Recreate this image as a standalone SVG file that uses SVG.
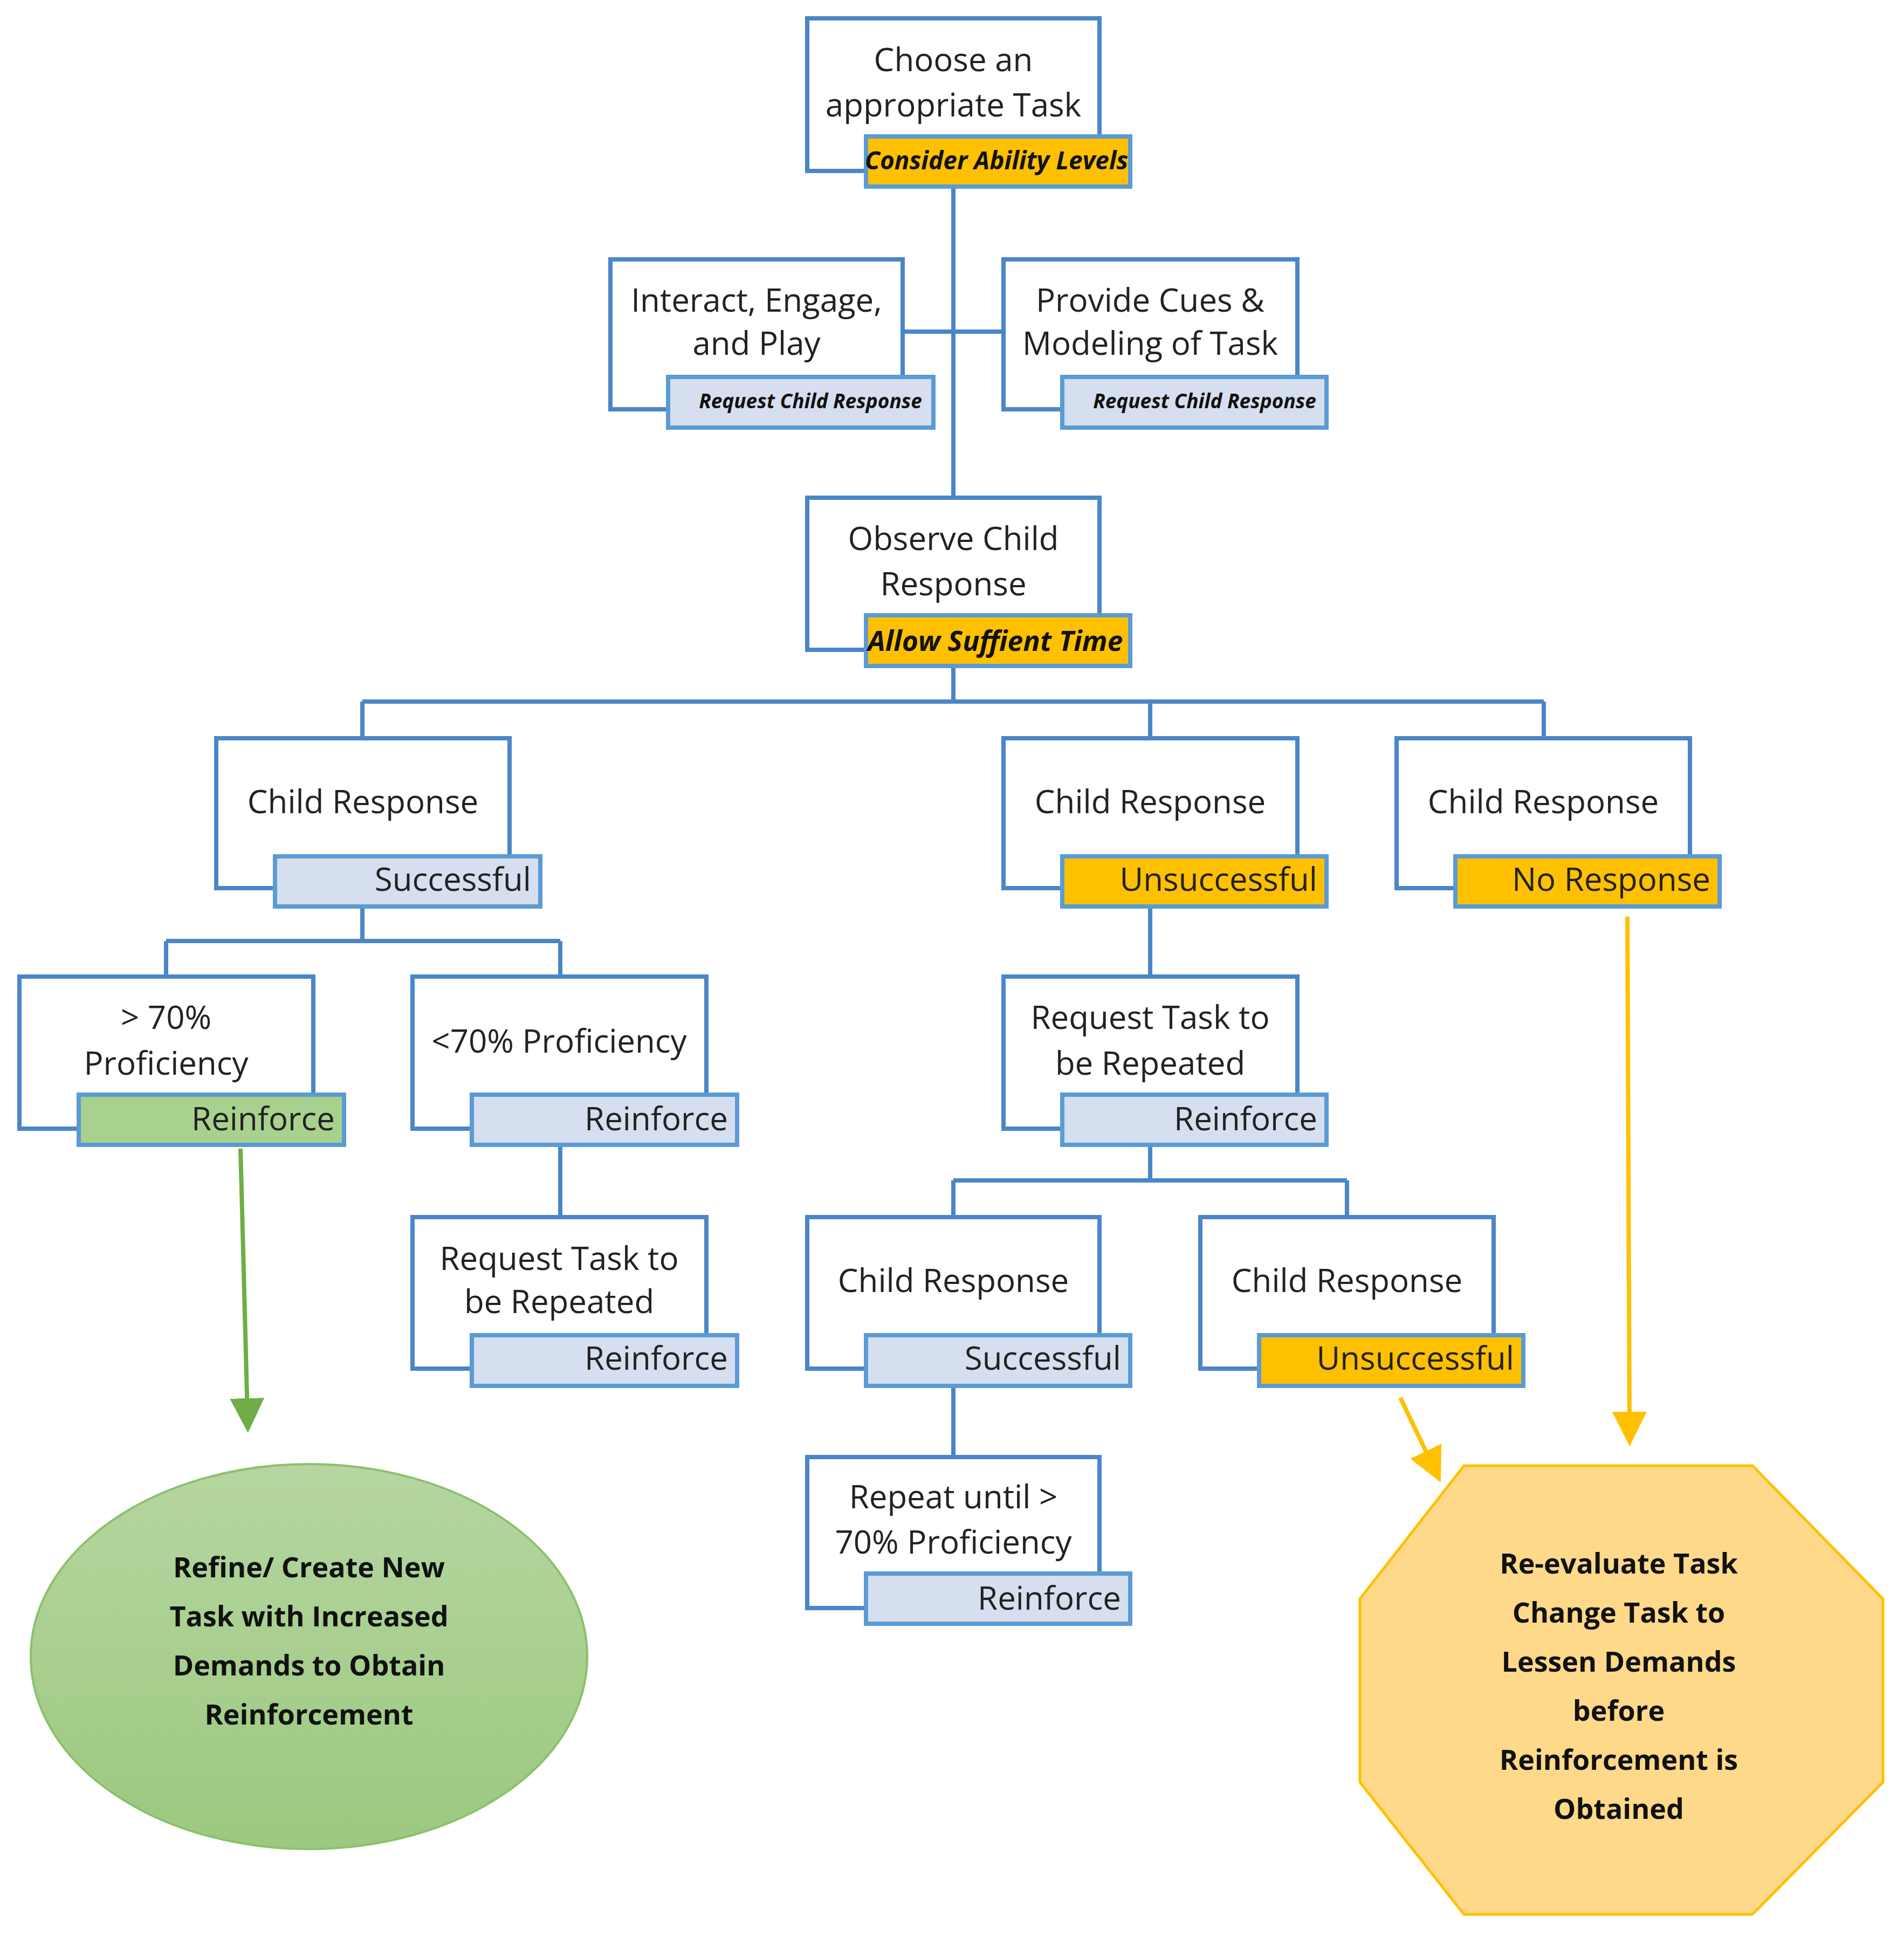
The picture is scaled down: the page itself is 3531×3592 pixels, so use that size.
<svg xmlns="http://www.w3.org/2000/svg" width="3531" height="3592" viewBox="0 0 3531 3592">
<style>
.box{fill:#fff;stroke:#4A86C8;stroke-width:8}
.lb{fill:#D5DFEF;stroke:#5B9BD5;stroke-width:8}
.ly{fill:#FFC000;stroke:#5B9BD5;stroke-width:8}
.lg{fill:#A9D18E;stroke:#5B9BD5;stroke-width:8}
.t{font-family:"Open Sans","Liberation Sans",sans-serif;font-size:60px;fill:#222;text-anchor:middle}
.tl{font-family:"Open Sans","Liberation Sans",sans-serif;font-size:60px;fill:#222;text-anchor:end}
.ti{font-family:"Open Sans","Liberation Sans",sans-serif;font-weight:bold;font-style:italic;fill:#111;text-anchor:middle}
.tb{font-family:"Open Sans","Liberation Sans",sans-serif;font-weight:bold;font-size:52px;fill:#111;text-anchor:middle}
.c{fill:none;stroke:#4A86C8;stroke-width:8}
</style>
<defs>
<marker id="ag" markerWidth="8" markerHeight="8" refX="4" refY="4" orient="auto" markerUnits="strokeWidth" viewBox="0 0 8 8"><path d="M0,0 L8,4 L0,8 z" fill="#70AD47"/></marker>
<marker id="ay" markerWidth="8" markerHeight="8" refX="4" refY="4" orient="auto" markerUnits="strokeWidth" viewBox="0 0 8 8"><path d="M0,0 L8,4 L0,8 z" fill="#FFC000"/></marker>
<linearGradient id="gg" x1="0" y1="0" x2="0" y2="1"><stop offset="0" stop-color="#B5D6A0"/><stop offset="1" stop-color="#9CC87F"/></linearGradient>
</defs>
<g id="connectors">
<path class="c" d="M1768,346 V923 M1674,615 H1861 M1768,1235 V1301 M672,1301 H2863 M672,1301 V1369 M2133,1301 V1369 M2863,1301 V1369"/>
<path class="c" d="M672,1681 V1745 M308,1745 H1039 M308,1745 V1811 M1039,1745 V1811 M2133,1681 V1811"/>
<path class="c" d="M1039,2123 V2257 M2133,2123 V2189 M1768,2189 H2498 M1768,2189 V2257 M2498,2189 V2257 M1768,2570 V2702"/>
<line x1="446" y1="2130" x2="459" y2="2625" stroke="#70AD47" stroke-width="8" marker-end="url(#ag)"/>
<line x1="3018" y1="1700" x2="3022" y2="2650" stroke="#FFC000" stroke-width="8" marker-end="url(#ay)"/>
<line x1="2597" y1="2592" x2="2658" y2="2720" stroke="#FFC000" stroke-width="8" marker-end="url(#ay)"/>
</g>
<g id="n_choose"><rect class="box" x="1497" y="34" width="542" height="283"/><rect class="ly" x="1606" y="253" width="490" height="93"/>
<text class="t" x="1768" y="132">Choose an</text><text class="t" x="1768" y="216">appropriate Task</text>
<text class="ti" x="1848" y="314" font-size="46">Consider Ability Levels</text></g>
<g id="n_interact"><rect class="box" x="1132" y="481" width="542" height="278"/><rect class="lb" x="1239" y="699" width="492" height="94"/>
<text class="t" x="1403" y="578">Interact, Engage,</text><text class="t" x="1403" y="658">and Play</text>
<text class="ti" x="1503" y="757" font-size="37">Request Child Response</text></g>
<g id="n_provide"><rect class="box" x="1861" y="481" width="545" height="278"/><rect class="lb" x="1970" y="699" width="490" height="94"/>
<text class="t" x="2133" y="578">Provide Cues &amp;</text><text class="t" x="2133" y="658">Modeling of Task</text>
<text class="ti" x="2234" y="757" font-size="37">Request Child Response</text></g>
<g id="n_observe"><rect class="box" x="1497" y="923" width="542" height="282"/><rect class="ly" x="1606" y="1141" width="490" height="94"/>
<text class="t" x="1768" y="1020">Observe Child</text><text class="t" x="1768" y="1104">Response</text>
<text class="ti" x="1846" y="1207" font-size="52">Allow Suffient Time</text></g>
<g id="n_cr1"><rect class="box" x="401" y="1369" width="544" height="278"/><rect class="lb" x="510" y="1588" width="492" height="93"/>
<text class="t" x="673" y="1508">Child Response</text><text class="tl" x="985" y="1652">Successful</text></g>
<g id="n_cr2"><rect class="box" x="1861" y="1369" width="545" height="278"/><rect class="ly" x="1970" y="1588" width="490" height="93"/>
<text class="t" x="2133" y="1508">Child Response</text><text class="tl" x="2443" y="1652">Unsuccessful</text></g>
<g id="n_cr3"><rect class="box" x="2590" y="1369" width="544" height="278"/><rect class="ly" x="2699" y="1588" width="490" height="93"/>
<text class="t" x="2862" y="1508">Child Response</text><text class="tl" x="3172" y="1652">No Response</text></g>
<g id="n_gt70"><rect class="box" x="36" y="1811" width="545" height="282"/><rect class="lg" x="146" y="2030" width="492" height="93"/>
<text class="t" x="308" y="1908">&gt; 70%</text><text class="t" x="308" y="1993">Proficiency</text><text class="tl" x="621" y="2096">Reinforce</text></g>
<g id="n_lt70"><rect class="box" x="765" y="1811" width="545" height="282"/><rect class="lb" x="875" y="2030" width="492" height="93"/>
<text class="t" x="1037" y="1952">&lt;70% Proficiency</text><text class="tl" x="1350" y="2096">Reinforce</text></g>
<g id="n_req1"><rect class="box" x="1861" y="1811" width="545" height="282"/><rect class="lb" x="1970" y="2030" width="490" height="93"/>
<text class="t" x="2133" y="1908">Request Task to</text><text class="t" x="2133" y="1993">be Repeated</text><text class="tl" x="2443" y="2096">Reinforce</text></g>
<g id="n_req2"><rect class="box" x="765" y="2257" width="545" height="281"/><rect class="lb" x="875" y="2476" width="492" height="94"/>
<text class="t" x="1037" y="2355">Request Task to</text><text class="t" x="1037" y="2435">be Repeated</text><text class="tl" x="1350" y="2540">Reinforce</text></g>
<g id="n_cr4"><rect class="box" x="1497" y="2257" width="542" height="281"/><rect class="lb" x="1606" y="2476" width="490" height="94"/>
<text class="t" x="1768" y="2396">Child Response</text><text class="tl" x="2079" y="2540">Successful</text></g>
<g id="n_cr5"><rect class="box" x="2226" y="2257" width="544" height="281"/><rect class="ly" x="2335" y="2476" width="490" height="94"/>
<text class="t" x="2498" y="2396">Child Response</text><text class="tl" x="2808" y="2540">Unsuccessful</text></g>
<g id="n_repeat"><rect class="box" x="1497" y="2702" width="542" height="280"/><rect class="lb" x="1606" y="2918" width="490" height="93"/>
<text class="t" x="1768" y="2797">Repeat until &gt;</text><text class="t" x="1768" y="2881">70% Proficiency</text><text class="tl" x="2079" y="2985">Reinforce</text></g>
<g id="n_refine"><ellipse cx="573" cy="3072" rx="516" ry="357" fill="url(#gg)" stroke="#8CC06C" stroke-width="4"/>
<text class="tb" x="573" y="2925">Refine/ Create New</text><text class="tb" x="573" y="3016">Task with Increased</text>
<text class="tb" x="573" y="3107">Demands to Obtain</text><text class="tb" x="573" y="3198">Reinforcement</text></g>
<g id="n_reeval"><polygon points="2715,2718 3250,2718 3492,2965 3492,3305 3250,3550 2715,3550 2522,3305 2522,2965" fill="#FFD98A" stroke="#FFC000" stroke-width="5"/>
<text class="tb" x="3002" y="2918">Re-evaluate Task</text><text class="tb" x="3002" y="3009">Change Task to</text>
<text class="tb" x="3002" y="3100">Lessen Demands</text><text class="tb" x="3002" y="3191">before</text>
<text class="tb" x="3002" y="3282">Reinforcement is</text><text class="tb" x="3002" y="3373">Obtained</text></g>
</svg>
